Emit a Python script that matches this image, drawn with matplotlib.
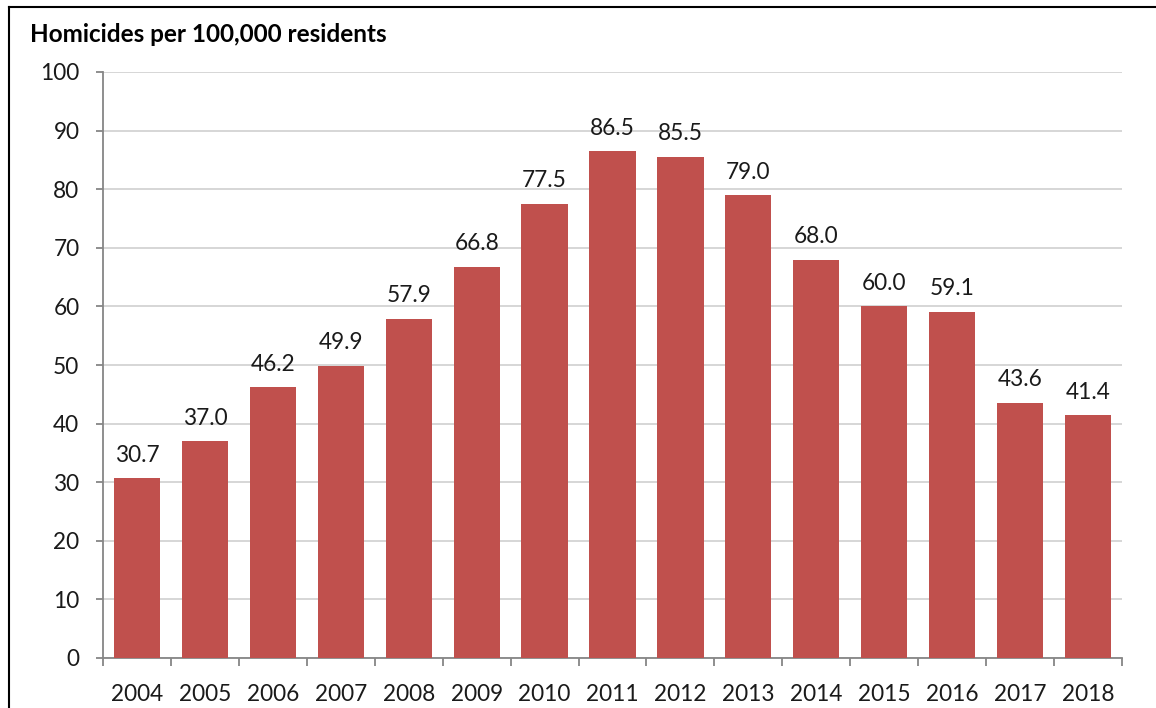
import matplotlib
matplotlib.use("Agg")
import matplotlib.pyplot as plt
import numpy as np

years = ["2004", "2005", "2006", "2007", "2008", "2009", "2010", "2011",
         "2012", "2013", "2014", "2015", "2016", "2017", "2018"]
values = [30.7, 37.0, 46.2, 49.9, 57.9, 66.8, 77.5, 86.5,
          85.5, 79.0, 68.0, 60.0, 59.1, 43.6, 41.4]
yticks = [0, 10, 20, 30, 40, 50, 60, 70, 80, 90, 100]
title = "Homicides per 100,000 residents"

plt.rcParams['font.family'] = ['Lato', 'DejaVu Sans']

W, H = 1156, 708
fig = plt.figure(figsize=(W / 100, H / 100), dpi=100)
ax = fig.add_axes([103 / W, 1 - 658 / H, (1122 - 103) / W, (658 - 72) / H])

x = np.arange(len(years))
ax.bar(x, values, width=0.68, color="#C0504D", zorder=3)

fs = 16.3
ax.set_xlim(-0.5, len(years) - 0.5)
ax.set_ylim(0, 100)
ax.set_yticks(yticks)
ax.set_yticklabels([str(t) for t in yticks], fontsize=fs, color="#1a1a1a")
ax.set_xticks(x)
ax.set_xticklabels(years, fontsize=fs, color="#1a1a1a")
ax.set_xticks(np.arange(len(years) + 1) - 0.5, minor=True)
ax.tick_params(axis="x", which="major", length=0, pad=19)
ax.tick_params(axis="x", which="minor", length=6, width=1.3, color="#868686", direction="out")
ax.tick_params(axis="y", which="major", length=5, width=1.3, color="#868686", direction="out", pad=12)

ax.grid(axis="y", color="#D0D0D0", linewidth=1.2, zorder=0)
for s in ["top", "right"]:
    ax.spines[s].set_visible(False)
for s in ["left", "bottom"]:
    ax.spines[s].set_color("#868686")
    ax.spines[s].set_linewidth(1.3)

for xi, v in zip(x, values):
    ax.annotate(f"{v:.1f}", (xi, v), xytext=(0, 9), textcoords="offset points",
                ha="center", va="bottom", fontsize=fs, color="#1a1a1a")

fig.text(30 / W, 1 - 35 / H, title, fontsize=17.5, fontweight="bold",
         ha="left", va="center", color="#000000")

# outer border
fig.add_artist(plt.Line2D([9 / W, 9 / W], [0, 1 - 7 / H], transform=fig.transFigure,
                          color="#000000", linewidth=1.5))
fig.add_artist(plt.Line2D([9 / W, 1], [1 - 7 / H, 1 - 7 / H], transform=fig.transFigure,
                          color="#000000", linewidth=1.5))

fig.savefig("out.png", dpi=100)
